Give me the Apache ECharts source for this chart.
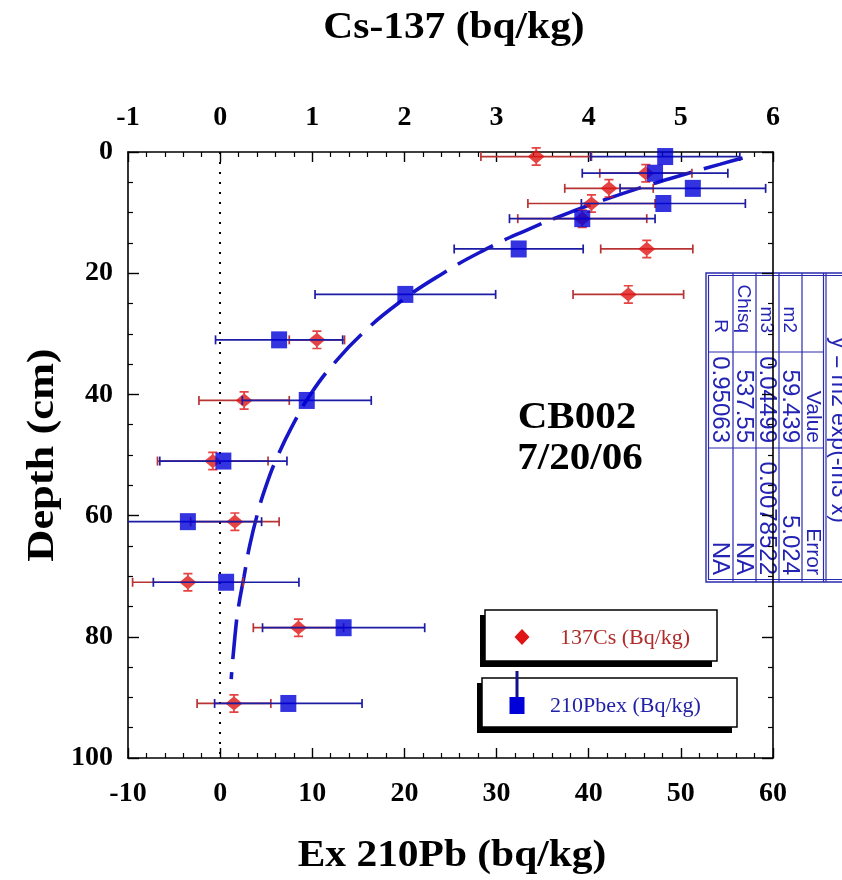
<!DOCTYPE html>
<html><head><meta charset="utf-8">
<script src="https://cdn.jsdelivr.net/npm/echarts@6/dist/echarts.min.js"></script>
<style>html,body{margin:0;padding:0;background:#fff}#c{width:842px;height:880px}</style>
</head><body><div id="c"></div>
<script>
// ---- data ----
const depths = [0.75, 3.5, 6, 8.5, 11, 16, 23.5, 31, 41, 51, 61, 71, 78.5, 91];
const pbValues = [48.3, 47.2, 51.3, 48.1, 39.3, 32.4, 20.1, 6.4, 9.4, 0.35, -3.5, 0.65, 13.4, 7.4];
const pbErrors = [8.1, 7.9, 7.9, 8.9, 7.9, 7.0, 9.8, 6.9, 7.0, 6.9, 8.0, 7.9, 8.8, 8.0];
const csValues = [3.43, 4.62, 4.22, 4.03, 3.93, 4.63, 4.43, 1.05, 0.26, -0.08, 0.16, -0.35, 0.85, 0.15];
const csErrors = [0.6, 0.5, 0.48, 0.69, 0.7, 0.5, 0.6, 0.3, 0.49, 0.6, 0.48, 0.6, 0.49, 0.4];
// dashed fit curve y = m2 exp(-m3 x)
const fitDepths = [1, 2, 4, 6, 8, 10, 13, 16, 20, 25, 30, 35, 40, 45, 50, 55, 60, 65, 70, 75, 80, 87];
const fitValues = [56.7, 54.3, 49.7, 45.4, 41.5, 37.9, 33.1, 28.9, 24.2, 19.3, 15.4, 12.3, 9.8, 7.9, 6.3, 5.0, 4.0, 3.2, 2.6, 2.0, 1.6, 1.2];
// fit parameter table
const fitTitle = 'y = m2 exp(-m3 x)';
const fitHeader = ['', 'Value', 'Error'];
const fitNames = ['m2', 'm3', 'Chisq', 'R'];
const fitParamValues = ['59.439', '0.04499', '537.55', '0.95063'];
const fitParamErrors = ['5.024', '0.0078522', 'NA', 'NA'];
// axes
const pbAxis = {min: -10, max: 60, interval: 10};
const csAxis = {min: -1, max: 6, interval: 1};
const depthAxis = {min: 0, max: 100, interval: 20};
const legendNames = ['137Cs (Bq/kg)', '210Pbex (Bq/kg)'];

const RED = '#e01414', RED_ERR = '#b83434', BLUE = '#0000d8', BLUE_ERR = '#1c1ca4', FIT = '#1616c8';
const SERIF = '"Liberation Serif", "Times New Roman", serif';
const SANS = '"Liberation Sans", Arial, sans-serif';
const TBL = '#2a2ab0', TBL_TXT = '#2424b4';

const chart = echarts.init(document.getElementById('c'), null, {renderer: 'canvas'});

function errBar(color) {
  return function (params, api) {
    const v = api.value(0), d = api.value(1), e = api.value(2);
    const p1 = api.coord([v - e, d]), p2 = api.coord([v + e, d]);
    const h = 4.5;
    const st = {stroke: color, lineWidth: 1.7, fill: null};
    return {type: 'group', children: [
      {type: 'line', shape: {x1: p1[0], y1: p1[1], x2: p2[0], y2: p2[1]}, style: st},
      {type: 'line', shape: {x1: p1[0], y1: p1[1] - h, x2: p1[0], y2: p1[1] + h}, style: st},
      {type: 'line', shape: {x1: p2[0], y1: p2[1] - h, x2: p2[0], y2: p2[1] + h}, style: st}
    ]};
  };
}

const labelStyle = {color: '#000', fontFamily: SERIF, fontWeight: 'bold', fontSize: 28};
const axisLineStyle = {show: true, onZero: false, lineStyle: {color: '#000', width: 1.6}};

const diamondIBeam = 'path://M9.2,0 L10.8,0 L10.8,20 L9.2,20 Z M6,0 L14,0 L14,1.8 L6,1.8 Z M6,18.2 L14,18.2 L14,20 L6,20 Z M10,2.5 L17.5,10 L10,17.5 L2.5,10 Z';

// table graphic (rotated clockwise)
const tblW = 309, tblH = 140;
const rowsV = [32.5, 55.5, 78.5, 101.5, 125];
const tblChildren = [
  {type: 'rect', shape: {x: 0, y: 0, width: tblW, height: tblH}, style: {fill: '#fff', stroke: TBL, lineWidth: 1.4}},
  {type: 'rect', shape: {x: 2.5, y: 2.5, width: tblW - 5, height: tblH - 5}, style: {fill: null, stroke: TBL, lineWidth: 1.2}},
  {type: 'line', shape: {x1: 0, y1: 20, x2: tblW, y2: 20}, style: {stroke: TBL, lineWidth: 1.2}},
  {type: 'line', shape: {x1: 0, y1: 22.5, x2: tblW, y2: 22.5}, style: {stroke: TBL, lineWidth: 1.2}},
  {type: 'text', style: {x: 157, y: 8, text: fitTitle, font: '23px ' + SANS, fill: TBL_TXT, textAlign: 'center', textVerticalAlign: 'middle'}}
];
[44, 67, 90, 113].forEach(v => tblChildren.push({type: 'line', shape: {x1: 0, y1: v, x2: tblW, y2: v}, style: {stroke: TBL, lineWidth: 1.2}}));
[79, 175].forEach(u => tblChildren.push({type: 'line', shape: {x1: u, y1: 22.5, x2: u, y2: tblH - 2.5}, style: {stroke: TBL, lineWidth: 1.2}}));
const tCell = (u, v, t, fs) => ({type: 'text', style: {x: u, y: v + 1, text: t, font: fs + 'px ' + SANS, fill: TBL_TXT, textAlign: 'right', textVerticalAlign: 'middle'}});
tblChildren.push(tCell(170, rowsV[0], fitHeader[1], 21), tCell(302, rowsV[0], fitHeader[2], 21));
fitNames.forEach((n, i) => {
  tblChildren.push(tCell(60, rowsV[i + 1], n, 19), tCell(170, rowsV[i + 1], fitParamValues[i], 24), tCell(302, rowsV[i + 1], fitParamErrors[i], 24));
});

const option = {
  backgroundColor: '#fff',
  animation: false,
  grid: {left: 128, right: 69, top: 152, bottom: 122, containLabel: false},
  xAxis: [
    {type: 'value', position: 'bottom', min: pbAxis.min, max: pbAxis.max, interval: pbAxis.interval,
     axisLine: axisLineStyle, axisTick: {show: true, inside: true, length: 10, lineStyle: {color: '#000', width: 1.4}},
     minorTick: {show: true, splitNumber: 5, length: 5, lineStyle: {color: '#000', width: 1.2}},
     splitLine: {show: false}, minorSplitLine: {show: false},
     axisLabel: Object.assign({margin: 22, showMinLabel: true, showMaxLabel: true}, labelStyle)},
    {type: 'value', position: 'top', min: csAxis.min, max: csAxis.max, interval: csAxis.interval,
     axisLine: axisLineStyle, axisTick: {show: true, inside: true, length: 10, lineStyle: {color: '#000', width: 1.4}},
     minorTick: {show: true, splitNumber: 5, length: 5, lineStyle: {color: '#000', width: 1.2}},
     splitLine: {show: false},
     axisLabel: Object.assign({margin: 20, showMinLabel: true, showMaxLabel: true}, labelStyle)}
  ],
  yAxis: [
    {type: 'value', position: 'left', inverse: true, min: depthAxis.min, max: depthAxis.max, interval: depthAxis.interval,
     axisLine: axisLineStyle, axisTick: {show: true, inside: true, length: 11, lineStyle: {color: '#000', width: 1.4}},
     minorTick: {show: true, splitNumber: 4, length: 5, lineStyle: {color: '#000', width: 1.2}},
     splitLine: {show: false},
     axisLabel: Object.assign({margin: 15}, labelStyle)},
    {type: 'value', position: 'right', inverse: true, min: depthAxis.min, max: depthAxis.max, interval: depthAxis.interval,
     axisLine: axisLineStyle, axisTick: {show: true, inside: true, length: 11, lineStyle: {color: '#000', width: 1.4}},
     minorTick: {show: true, splitNumber: 4, length: 5, lineStyle: {color: '#000', width: 1.2}},
     splitLine: {show: false}, axisLabel: {show: false}}
  ],
  series: [
    {type: 'line', name: 'fit', xAxisIndex: 0, yAxisIndex: 0, smooth: true, showSymbol: false, symbol: 'none',
     data: fitDepths.map((d, i) => [fitValues[i], d]),
     lineStyle: {color: FIT, width: 3.6, type: [40, 13]}, z: 2},
    {type: 'custom', name: 'csErr', xAxisIndex: 1, yAxisIndex: 0, clip: true, renderItem: errBar(RED_ERR),
     encode: {x: 0, y: 1}, data: depths.map((d, i) => [csValues[i], d, csErrors[i]]), z: 3},
    {type: 'scatter', name: legendNames[0], xAxisIndex: 1, yAxisIndex: 0, symbol: diamondIBeam, symbolSize: [17, 19],
     itemStyle: {color: RED}, data: depths.map((d, i) => [csValues[i], d]), z: 4},
    {type: 'custom', name: 'pbErr', xAxisIndex: 0, yAxisIndex: 0, clip: true, renderItem: errBar(BLUE_ERR),
     encode: {x: 0, y: 1}, data: depths.map((d, i) => [pbValues[i], d, pbErrors[i]]), z: 5},
    {type: 'scatter', name: legendNames[1], xAxisIndex: 0, yAxisIndex: 0, symbol: 'rect', symbolSize: [16, 17],
     itemStyle: {color: BLUE}, data: depths.map((d, i) => [pbValues[i], d]), z: 6,
     markLine: {silent: true, symbol: 'none', label: {show: false}, animation: false,
       lineStyle: {color: '#000', width: 2, type: [2, 8]}, data: [{xAxis: 0}]}}
  ],
  graphic: [
    {type: 'text', x: 454, y: 28, scaleX: 1.12, style: {text: 'Cs-137 (bq/kg)', font: 'bold 37px ' + SERIF, fill: '#000', textAlign: 'center', textVerticalAlign: 'middle'}},
    {type: 'text', x: 452, y: 856, scaleX: 1.12, style: {text: 'Ex 210Pb (bq/kg)', font: 'bold 37px ' + SERIF, fill: '#000', textAlign: 'center', textVerticalAlign: 'middle'}},
    {type: 'text', x: 43, y: 455, rotation: Math.PI / 2, scaleX: 1.2, style: {text: 'Depth (cm)', font: 'bold 37px ' + SERIF, fill: '#000', textAlign: 'center', textVerticalAlign: 'middle'}},
    {type: 'text', x: 577, y: 418, scaleX: 1.08, style: {text: 'CB002', font: 'bold 38px ' + SERIF, fill: '#000', textAlign: 'center', textVerticalAlign: 'middle'}},
    {type: 'text', x: 580, y: 459, scaleX: 1.08, style: {text: '7/20/06', font: 'bold 38px ' + SERIF, fill: '#000', textAlign: 'center', textVerticalAlign: 'middle'}},
    // legend box 1
    {type: 'rect', shape: {x: 480, y: 615, width: 232, height: 52}, style: {fill: '#000'}, z: 100},
    {type: 'rect', shape: {x: 485, y: 610, width: 232, height: 51}, style: {fill: '#fff', stroke: '#000', lineWidth: 1.5}, z: 101},
    {type: 'polygon', shape: {points: [[522, 629], [529.5, 637], [522, 645], [514.5, 637]]}, style: {fill: RED}, z: 102},
    {type: 'text', x: 560, y: 638, style: {text: legendNames[0], font: '22px ' + SERIF, fill: '#b02a2a', textAlign: 'left', textVerticalAlign: 'middle'}, z: 102},
    // legend box 2
    {type: 'rect', shape: {x: 477, y: 683, width: 255, height: 50}, style: {fill: '#000'}, z: 100},
    {type: 'rect', shape: {x: 482, y: 678, width: 255, height: 49}, style: {fill: '#fff', stroke: '#000', lineWidth: 1.5}, z: 101},
    {type: 'line', shape: {x1: 517, y1: 671, x2: 517, y2: 698}, style: {stroke: '#10108a', lineWidth: 3}, z: 103},
    {type: 'rect', shape: {x: 509.5, y: 697, width: 15, height: 17}, style: {fill: BLUE}, z: 103},
    {type: 'text', x: 550, y: 706, style: {text: legendNames[1], font: '22px ' + SERIF, fill: '#2222a8', textAlign: 'left', textVerticalAlign: 'middle'}, z: 102},
    // fit table
    {type: 'group', x: 846, y: 273, rotation: -Math.PI / 2, z: 110, children: tblChildren}
  ]
};
chart.setOption(option);
</script>
</body></html>
